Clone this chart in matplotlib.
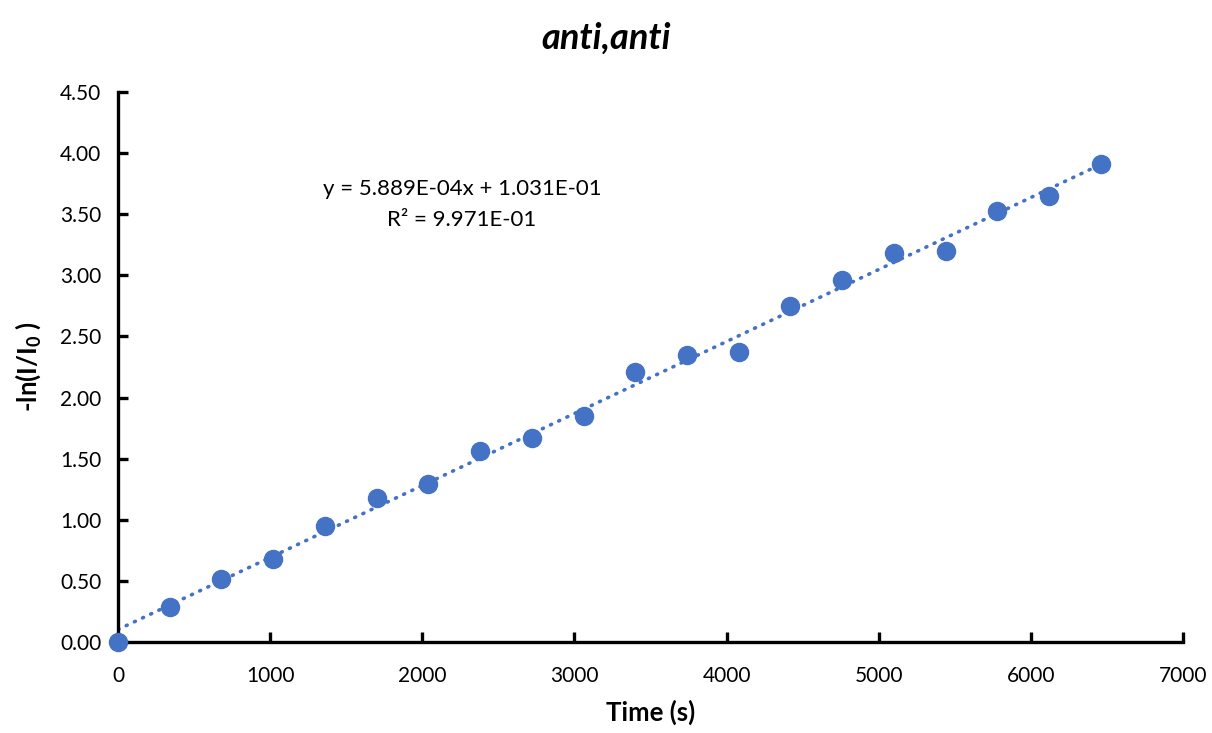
import numpy as np
import matplotlib
matplotlib.use("Agg")
import matplotlib.pyplot as plt

plt.rcParams["font.family"] = ["Lato", "DejaVu Sans"]
plt.rcParams["mathtext.fontset"] = "custom"
plt.rcParams["mathtext.bf"] = "Lato:bold"
plt.rcParams["mathtext.rm"] = "Lato"
plt.rcParams["mathtext.default"] = "bf"

# data
time_s = [0, 340, 680, 1020, 1360, 1700, 2040, 2380, 2720, 3060,
          3400, 3740, 4080, 4420, 4760, 5100, 5440, 5780, 6120, 6460]
neg_ln = [0.00, 0.29, 0.52, 0.68, 0.95, 1.18, 1.29, 1.56, 1.67, 1.85,
          2.21, 2.35, 2.37, 2.75, 2.96, 3.18, 3.20, 3.53, 3.65, 3.91]
slope = 5.889e-4
intercept = 1.031e-01
r2 = 9.971e-01

BLUE = "#4472C4"

fig = plt.figure(figsize=(12.12, 7.33), dpi=100)
ax = fig.add_axes([0.0974, 0.124, 0.8786, 0.7505])

xs = np.array([min(time_s), max(time_s)])
ax.plot(xs, slope * xs + intercept, linestyle=(0, (0.3, 2.2)), color=BLUE,
        linewidth=2.6, dash_capstyle="round", zorder=2)
ax.plot(time_s, neg_ln, "o", color=BLUE, markersize=13, clip_on=False, zorder=3)

ax.set_xlim(0, 7000)
ax.set_ylim(0, 4.5)
ax.set_xticks(np.arange(0, 7001, 1000))
ax.set_yticks(np.arange(0, 4.51, 0.5))
ax.yaxis.set_major_formatter(matplotlib.ticker.FormatStrFormatter("%.2f"))

for s in ["top", "right"]:
    ax.spines[s].set_visible(False)
for s in ["left", "bottom"]:
    ax.spines[s].set_linewidth(2.4)
    ax.spines[s].set_color("black")
ax.tick_params(direction="in", length=7, width=2.4, labelsize=15, colors="black")
ax.tick_params(axis="x", pad=17)
ax.tick_params(axis="y", pad=12)

ax.set_xlabel("Time (s)", fontsize=18.5, fontweight="bold", labelpad=10)
ax.set_ylabel(r"-ln(I/I$_{0}$ )", fontsize=18.5, fontweight="bold", labelpad=12)

ax.text(2260, 3.58, "y = %.3fE-04x + %.3fE-01\nR² = %.3fE-01"
        % (slope * 1e4, intercept * 10, r2 * 10),
        ha="center", va="center", fontsize=16, linespacing=1.65)

fig.text(0.5, 0.948, "anti,anti", ha="center", va="center",
         fontsize=26, fontweight="bold", fontstyle="italic")

fig.savefig("out.png", dpi=100)
